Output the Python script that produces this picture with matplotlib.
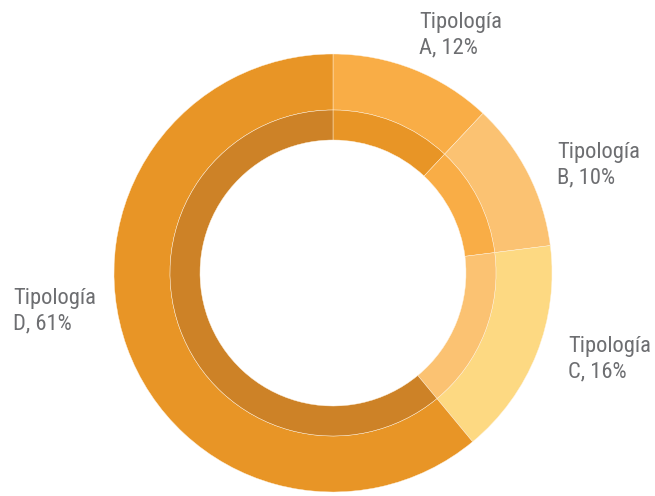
import matplotlib.pyplot as plt

# shares; printed labels as they appear
categorias = ['A', 'B', 'C', 'D']
shares = [12, 11, 16, 61]
label_pct = [12, 10, 16, 61]

cores_ext = ['#F9AD46', '#FBC272', '#FDD982', '#E89526']
cores_int = ['#E89526', '#F9AD46', '#FBC272', '#CD8227']

# label anchor (left x, first baseline y) in pixels from top-left
label_pos = [(419, 28), (557, 158), (568, 352), (13, 304)]
line_gap = 25

W, H = 655, 496
fig = plt.figure(figsize=(W / 100, H / 100), dpi=100)

cx, cy, R = 333, 273, 219
r_mid, r_hole = 163, 133
ax = fig.add_axes([(cx - R) / W, (H - cy - R) / H, 2 * R / W, 2 * R / H])
ax.set_aspect('equal')
ax.axis('off')

ax.pie(shares, colors=cores_ext, radius=1, startangle=90, counterclock=False,
       wedgeprops=dict(width=1 - r_mid / R, edgecolor='#FFF3E0', linewidth=0.3))
ax.pie(shares, colors=cores_int, radius=r_mid / R, startangle=90, counterclock=False,
       wedgeprops=dict(width=(r_mid - r_hole) / R, edgecolor='#FFF3E0', linewidth=0.3))
ax.set_xlim(-1, 1)
ax.set_ylim(-1, 1)

for cat, pct, (x, y) in zip(categorias, label_pct, label_pos):
    linhas = ['Tipología', f'{cat}, {pct}%']
    for i, t in enumerate(linhas):
        fig.text(x / W, (H - y - i * line_gap) / H, t, fontsize=16.2,
                 family=['Roboto Condensed', 'DejaVu Sans'],
                 color='#6D6E71', ha='left', va='baseline')

fig.savefig('out.png', dpi=100)
